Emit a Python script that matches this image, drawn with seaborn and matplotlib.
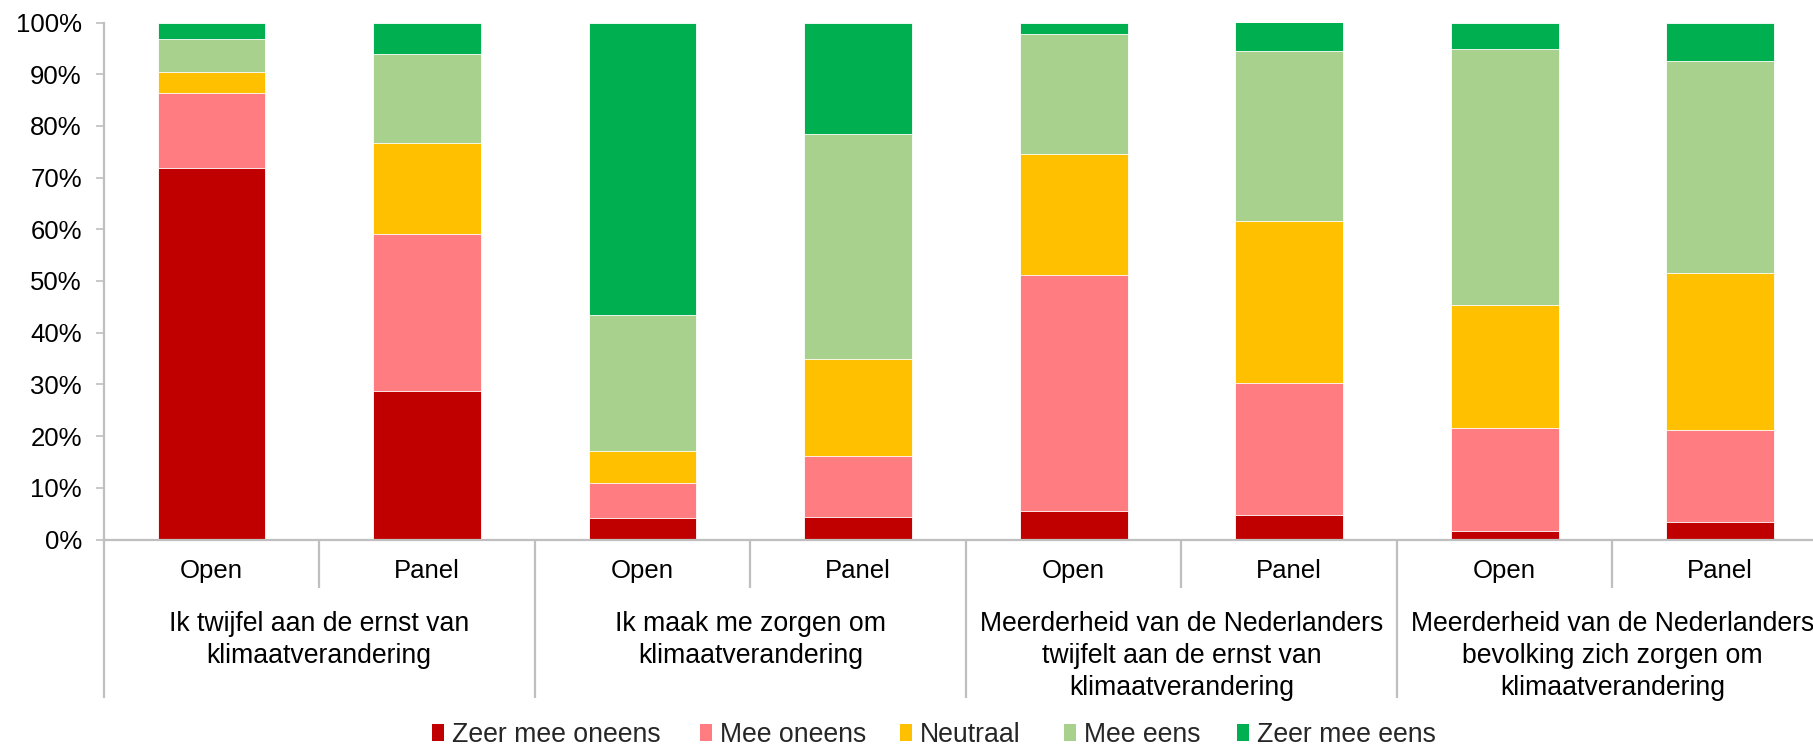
import matplotlib
matplotlib.use("Agg")
import matplotlib.pyplot as plt
import matplotlib.transforms as mtransforms
from matplotlib.patches import Patch
import seaborn as sns
import pandas as pd
import numpy as np

# ---- data ----
bar_ids = ["Open 1", "Panel 1", "Open 2", "Panel 2", "Open 3", "Panel 3", "Open 4", "Panel 4"]
bar_labels = ["Open", "Panel", "Open", "Panel", "Open", "Panel", "Open", "Panel"]
group_labels = [
    "Ik twijfel aan de ernst van\nklimaatverandering",
    "Ik maak me zorgen om\nklimaatverandering",
    "Meerderheid van de Nederlanders\ntwijfelt aan de ernst van\nklimaatverandering",
    "Meerderheid van de Nederlanders\nbevolking zich zorgen om\nklimaatverandering",
]
series_names = ["Zeer mee oneens", "Mee oneens", "Neutraal", "Mee eens", "Zeer mee eens"]
zeer_mee_oneens = [71.8, 28.7, 4.2, 4.4, 5.5, 4.7, 1.7, 3.3]
mee_oneens      = [14.6, 30.4, 6.7, 11.8, 45.7, 25.5, 19.9, 17.9]
neutraal        = [4.1, 17.5, 6.2, 18.7, 23.4, 31.4, 23.8, 30.4]
mee_eens        = [6.3, 17.4, 26.4, 43.5, 23.2, 32.8, 49.4, 41.0]
zeer_mee_eens   = [3.2, 6.0, 56.5, 21.6, 2.2, 5.6, 5.2, 7.4]
colors = ["#C00000", "#FF7C80", "#FFC000", "#A9D18E", "#00B050"]

series = [zeer_mee_oneens, mee_oneens, neutraal, mee_eens, zeer_mee_eens]
vals = np.array(series, dtype=float)
pct = vals / vals.sum(axis=0) * 100.0
cum = np.cumsum(pct, axis=0)

sns.set_style("white")
plt.rcParams["font.family"] = ["Liberation Sans", "DejaVu Sans"]
FS = 18.5
FS2 = 19.2

fig = plt.figure(figsize=(18.13, 7.47), dpi=100)
left = 103.7 / 1813
right = 1828.0 / 1813
bottom = 1 - 539.5 / 747
top = 1 - 22.5 / 747
ax = fig.add_axes([left, bottom, right - left, top - bottom])

# stacked bars: draw cumulative totals from top series down
for i in range(len(series) - 1, -1, -1):
    df = pd.DataFrame({"bar": bar_ids, "value": cum[i]})
    sns.barplot(data=df, x="bar", y="value", order=bar_ids, color=colors[i],
                saturation=1, width=0.5, edgecolor="white", linewidth=0.6,
                ax=ax, errorbar=None)

ax.set_xlim(-0.5, len(bar_ids) - 0.5)
ax.set_ylim(0, 100)
ax.set_xlabel("")
ax.set_ylabel("")

grey = "#BFBFBF"
ax.set_yticks(np.arange(0, 101, 10))
ax.set_yticklabels([f"{v}%" for v in range(0, 101, 10)])
ax.tick_params(axis="y", direction="out", length=5.8, width=1.2, color=grey,
               pad=10, labelsize=FS, labelcolor="#000000", left=True)
ax.set_xticks(range(len(bar_ids)))
ax.set_xticklabels(bar_labels)
ax.tick_params(axis="x", length=0, pad=14, labelsize=FS, labelcolor="#000000")

for s in ["top", "right"]:
    ax.spines[s].set_visible(False)
for s in ["left", "bottom"]:
    ax.spines[s].set_color(grey)
    ax.spines[s].set_linewidth(1.6)

# category separators below the axis
trans = mtransforms.blended_transform_factory(ax.transData, ax.transAxes)
ax_h_px = 539.5 - 22.5
short = (588 - 539.5) / ax_h_px
long_ = (698 - 539.5) / ax_h_px
for b in np.arange(-0.5, len(bar_ids), 1.0):
    gi = int(round(b + 0.5))
    depth = long_ if gi % 2 == 0 else short
    ax.plot([b, b], [0, -depth], transform=trans, color=grey, lw=1.6,
            clip_on=False, solid_capstyle="butt")

# group labels (top of first line ~ 611 px)
for g, lab in enumerate(group_labels):
    ax.annotate(lab, xy=(2 * g + 0.5, 0), xycoords=trans,
                xytext=(0, -(611.0 - 539.5) * 72 / 100), textcoords="offset points",
                ha="center", va="top", fontsize=FS2, color="#000000",
                linespacing=1.3)

# legend entries placed individually
legend_x = [431.6, 700.0, 900.0, 1064.0, 1237.0]
for c, n, lx in zip(colors, series_names, legend_x):
    h = Patch(facecolor=c, edgecolor="none", label=n)
    fig.legend(handles=[h], loc="center left", bbox_to_anchor=(lx / 1813, 1 - 735 / 747),
               frameon=False, fontsize=FS2, handlelength=0.45, handleheight=0.6,
               handletextpad=0.3, borderpad=0, borderaxespad=0)

fig.savefig("out.png", dpi=100)
